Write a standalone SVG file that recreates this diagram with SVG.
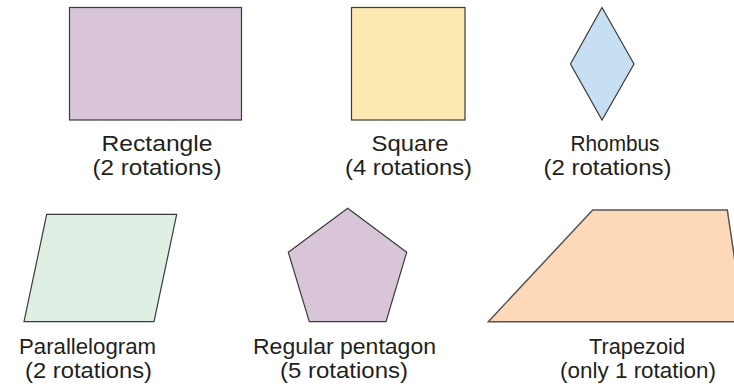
<svg xmlns="http://www.w3.org/2000/svg" width="734" height="387" viewBox="0 0 734 387">
<style>
.s{stroke:#3a3a3a;stroke-width:1.2;stroke-linejoin:miter}
.t{font-family:"Liberation Sans",Arial,Helvetica,sans-serif;font-size:22.5px;fill:#231f20;text-anchor:middle}
</style>
<rect width="734" height="387" fill="#ffffff"/>
<g id="rectangle">
<rect class="s" x="69.5" y="7.5" width="172" height="112.5" fill="#d8c5d8"/>
<text class="t" x="157" y="150.5" textLength="111" lengthAdjust="spacingAndGlyphs">Rectangle</text>
<text class="t" x="157" y="174.5" textLength="129" lengthAdjust="spacingAndGlyphs">(2 rotations)</text>
</g>
<g id="square">
<rect class="s" x="351.5" y="7.5" width="113.5" height="112.5" fill="#fdeab2"/>
<text class="t" x="410" y="150.5" textLength="77" lengthAdjust="spacingAndGlyphs">Square</text>
<text class="t" x="408.5" y="174.5" textLength="127" lengthAdjust="spacingAndGlyphs">(4 rotations)</text>
</g>
<g id="rhombus">
<polygon class="s" points="602,7.5 634,64 602,120 570.5,64" fill="#c6dff3"/>
<text class="t" x="615" y="150.5" textLength="89" lengthAdjust="spacingAndGlyphs">Rhombus</text>
<text class="t" x="607.5" y="174.5" textLength="128" lengthAdjust="spacingAndGlyphs">(2 rotations)</text>
</g>
<g id="parallelogram">
<polygon class="s" points="46.7,214.3 176.7,214.3 154,321.7 24,321.7" fill="#e0efe4"/>
<text class="t" x="87.5" y="353.5" textLength="137" lengthAdjust="spacingAndGlyphs">Parallelogram</text>
<text class="t" x="88.5" y="377.5" textLength="127" lengthAdjust="spacingAndGlyphs">(2 rotations)</text>
</g>
<g id="pentagon">
<polygon class="s" points="347.7,208.3 406.7,252.3 386,321.7 309.3,321.7 288.3,252.3" fill="#d8c5d8"/>
<text class="t" x="344.5" y="353.5" textLength="183" lengthAdjust="spacingAndGlyphs">Regular pentagon</text>
<text class="t" x="344" y="377.5" textLength="128" lengthAdjust="spacingAndGlyphs">(5 rotations)</text>
</g>
<g id="trapezoid">
<polygon points="592.7,210 727.3,210 744,321.7 488.3,321.7" fill="#fdd9ba" stroke="#555" stroke-width="1.5"/>
<text class="t" x="637" y="353.5" textLength="96" lengthAdjust="spacingAndGlyphs">Trapezoid</text>
<text class="t" x="638" y="377.5" textLength="156" lengthAdjust="spacingAndGlyphs">(only 1 rotation)</text>
</g>
<g id="connectors"></g>
</svg>
